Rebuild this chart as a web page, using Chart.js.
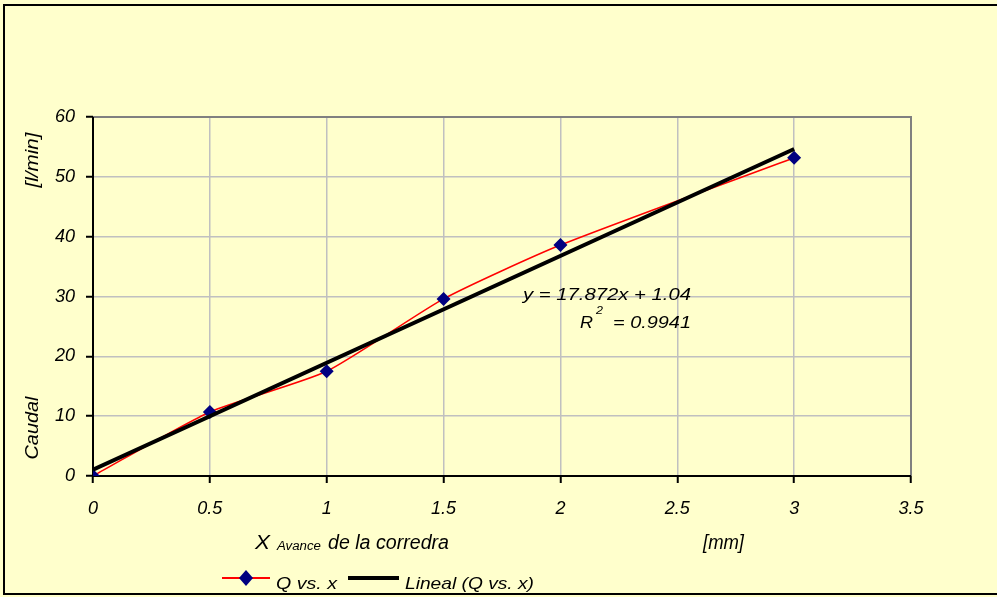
<!DOCTYPE html>
<html>
<head>
<meta charset="utf-8">
<script src="https://cdn.jsdelivr.net/npm/chart.js@4.4.1/dist/chart.umd.min.js"></script>
<style>
  html, body { margin: 0; padding: 0; background: #FFFFCC; }
  #wrap { width: 997px; height: 597px; position: relative; }
</style>
</head>
<body>
<div id="wrap"><canvas id="myChart" width="997" height="597"></canvas></div>
<script>
// datos
var avance = [0, 0.5, 1, 1.5, 2, 3];
var caudal = [0, 10.7, 17.5, 29.6, 38.6, 53.2];
// extremos de la linea de tendencia
var tendX = [0, 3];
var tendY = [1.04, 54.66];
var xTicks = [0, 0.5, 1, 1.5, 2, 2.5, 3, 3.5];
var yTicks = [0, 10, 20, 30, 40, 50, 60];

var FONT = '"Liberation Sans", Arial, sans-serif';

// texto ensanchado como en excel: ancho final w
function texto(c, s, x, y, size, w, align) {
  c.save();
  c.font = 'italic ' + size + 'px ' + FONT;
  var m = c.measureText(s).width;
  var sx = w ? w / m : 1;
  c.translate(x, y);
  c.scale(sx, 1);
  c.textAlign = align || 'left';
  c.textBaseline = 'middle';
  c.fillText(s, 0, 0);
  c.restore();
  return m * sx;
}

var textos = {
  id: 'textos',
  beforeDraw: function (chart) {
    var c = chart.ctx;
    c.save();
    c.fillStyle = '#FFFFCC';
    c.fillRect(0, 0, chart.width, chart.height);
    c.restore();
  },
  beforeDatasetsDraw: function (chart) {
    var c = chart.ctx, a = chart.chartArea;
    c.save();
    // borde gris arriba y derecha
    c.strokeStyle = '#808080';
    c.lineWidth = 2;
    c.beginPath();
    c.moveTo(a.left, a.top);
    c.lineTo(a.right, a.top);
    c.lineTo(a.right, a.bottom);
    c.stroke();
    // ejes negros
    c.strokeStyle = '#000';
    c.lineWidth = 2;
    c.beginPath();
    c.moveTo(a.left, a.top);
    c.lineTo(a.left, a.bottom);
    c.lineTo(a.right, a.bottom);
    c.stroke();
    c.restore();
  },
  afterDraw: function (chart) {
    var c = chart.ctx;
    c.save();
    c.fillStyle = '#000';

    // titulo eje Y
    c.save();
    c.translate(33, 428);
    c.rotate(-Math.PI / 2);
    texto(c, 'Caudal', 0, 0, 18, 63, 'center');
    c.restore();
    c.save();
    c.translate(33, 160);
    c.rotate(-Math.PI / 2);
    texto(c, '[l/min]', 0, 0, 18, 55, 'center');
    c.restore();

    // titulo eje X
    var yy = 543;
    texto(c, 'X', 255, yy, 20, 15);
    texto(c, 'Avance', 277, yy + 4, 12, 44);
    texto(c, 'de la corredra', 328, yy, 20, 121);
    texto(c, '[mm]', 703, yy, 20, 41);

    // ecuacion
    texto(c, 'y = 17.872x + 1.04', 523, 295, 17, 168);
    texto(c, 'R', 580, 323, 17, 13);
    texto(c, '2', 596, 311, 11, 7);
    texto(c, '= 0.9941', 613, 323, 17, 78);

    // leyenda
    var ly = 578;
    c.strokeStyle = 'red';
    c.lineWidth = 2;
    c.beginPath();
    c.moveTo(222, ly);
    c.lineTo(270, ly);
    c.stroke();
    c.fillStyle = '#000080';
    c.beginPath();
    c.moveTo(246, ly - 8);
    c.lineTo(253, ly);
    c.lineTo(246, ly + 8);
    c.lineTo(239, ly);
    c.closePath();
    c.fill();
    c.fillStyle = '#000';
    texto(c, 'Q vs. x', 276, ly + 6, 17, 61);
    c.strokeStyle = '#000';
    c.lineWidth = 4;
    c.beginPath();
    c.moveTo(348, ly);
    c.lineTo(399, ly);
    c.stroke();
    texto(c, 'Lineal (Q vs. x)', 405, ly + 6, 17, 129);

    // marco exterior
    c.strokeStyle = '#000';
    c.lineWidth = 2;
    c.strokeRect(4, 5, 1000, 589);
    c.restore();
  }
};

new Chart(document.getElementById('myChart'), {
  type: 'scatter',
  data: {
    datasets: [{
      label: 'Q vs. x',
      data: avance.map(function (v, i) { return { x: v, y: caudal[i] }; }),
      showLine: true,
      borderColor: 'red',
      borderWidth: 1.5,
      tension: 0.2,
      pointStyle: 'rectRot',
      pointRadius: 7,
      pointHoverRadius: 7,
      pointBackgroundColor: '#000080',
      pointBorderColor: '#000080',
      pointBorderWidth: 0,
      order: 2
    }, {
      label: 'Lineal (Q vs. x)',
      data: tendX.map(function (v, i) { return { x: v, y: tendY[i] }; }),
      showLine: true,
      borderColor: '#000',
      borderWidth: 4,
      pointRadius: 0,
      order: 1
    }]
  },
  options: {
    responsive: false,
    animation: false,
    layout: { padding: { left: 0, top: 117, right: 86, bottom: 0 } },
    plugins: {
      legend: { display: false },
      tooltip: { enabled: false }
    },
    scales: {
      x: {
        type: 'linear',
        min: 0,
        max: 3.5,
        afterBuildTicks: function (s) { s.ticks = xTicks.map(function (v) { return { value: v }; }); },
        afterFit: function (s) { s.height = 121; },
        grid: { color: '#C0C0C0', lineWidth: 1.5, tickLength: 7, tickColor: '#000', tickWidth: 2 },
        border: { display: false },
        ticks: {
          color: '#000',
          font: { family: FONT, size: 18, style: 'italic' },
          padding: 15,
          maxRotation: 0,
          callback: function (v) { return String(v); }
        }
      },
      y: {
        type: 'linear',
        min: 0,
        max: 60,
        afterBuildTicks: function (s) { s.ticks = yTicks.map(function (v) { return { value: v }; }); },
        afterFit: function (s) { s.width = 93; },
        grid: { color: '#C0C0C0', lineWidth: 1.5, tickLength: 7, tickColor: '#000', tickWidth: 2 },
        border: { display: false },
        ticks: {
          color: '#000',
          font: { family: FONT, size: 18, style: 'italic' },
          padding: 11
        }
      }
    }
  },
  plugins: [textos]
});
</script>
</body>
</html>
